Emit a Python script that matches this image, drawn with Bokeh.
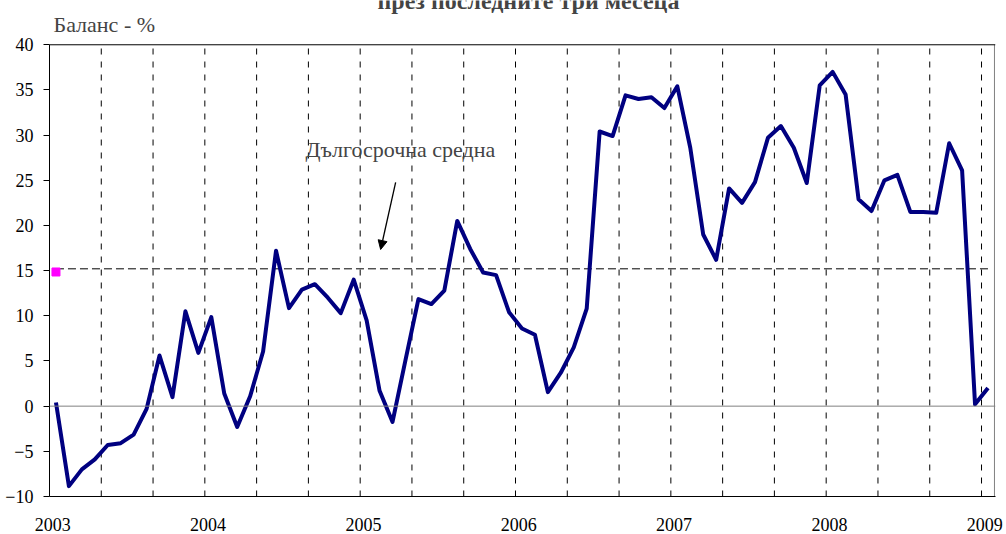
from bokeh.plotting import figure
from bokeh.models import FixedTicker, Span, Label, Arrow, NormalHead, Range1d, ColumnDataSource
from bokeh.embed import file_html
from bokeh.resources import INLINE

# ---- data ----
years = ["2003", "2004", "2005", "2006", "2007", "2008", "2009"]
balance = [0.4, -8.85, -7.0, -5.9, -4.3, -4.1, -3.15, -0.3, 5.6, 1.0, 10.5, 5.9,
           9.85, 1.4, -2.3, 1.1, 6.05, 17.2, 10.85, 12.9, 13.5, 12.0, 10.3, 14.0,
           9.5, 1.7, -1.75, 5.1, 11.85, 11.3, 12.8, 20.5, 17.4, 14.8, 14.5, 10.4,
           8.6, 7.9, 1.55, 3.7, 6.5, 10.8, 30.4, 29.9, 34.4, 34.0, 34.2, 33.0,
           35.4, 28.6, 19.0, 16.2, 24.1, 22.5, 24.8, 29.7, 31.0, 28.6, 24.7, 35.5,
           37.0, 34.5, 22.9, 21.6, 25.0, 25.6, 21.5, 21.5, 21.4, 29.1, 26.1, 0.2,
           2.0]
long_term_avg = 15.2
marker_value = 14.85
y_ticks = [-10, -5, 0, 5, 10, 15, 20, 25, 30, 35, 40]
y_min, y_max = -10, 40

title_text = "през последните три месеца"
y_title_text = "Баланс - %"
note_text = "Дългосрочна средна"

FONT = "Liberation Serif"
n = len(balance)
x = list(range(n))
src = ColumnDataSource(data=dict(x=x, y=balance))

# frame covers the top margin too, so that the texts above the plot area show
p = figure(width=1006, height=534, output_backend="svg", toolbar_location=None,
           x_range=Range1d(-0.5, n - 0.5 + 0.08), y_range=Range1d(y_min, 44.90),
           min_border_left=49, min_border_right=11, min_border_top=0,
           min_border_bottom=38)
p.styles = {"position": "absolute", "top": "0px", "left": "0px"}
p.background_fill_color = "white"
p.border_fill_color = "white"
p.outline_line_color = None
p.xgrid.visible = False
p.ygrid.visible = False

# x axis: year labels
year_pos = [12 * k - 0.25 for k in range(len(years))]
p.xaxis.ticker = FixedTicker(ticks=year_pos)
p.xaxis.major_label_overrides = {pos: lab for pos, lab in zip(year_pos, years)}
p.xaxis.major_tick_out = 0
p.xaxis.major_tick_in = 0
p.xaxis.minor_tick_out = 0
p.xaxis.minor_tick_in = 0
p.xaxis.major_label_standoff = 21
p.xaxis.axis_line_color = "black"

p.yaxis.ticker = FixedTicker(ticks=y_ticks)
p.yaxis.bounds = (y_min, y_max)
p.yaxis.major_tick_out = 6
p.yaxis.major_tick_in = 0
p.yaxis.minor_tick_out = 0
p.yaxis.minor_tick_in = 0
p.yaxis.major_label_standoff = 10
p.yaxis.axis_line_color = "black"

for ax in (p.xaxis[0], p.yaxis[0]):
    ax.major_label_text_font = FONT
    ax.major_label_text_font_size = "18px"
    ax.major_label_text_color = "black"
    ax.major_tick_line_color = "black"

# dashed vertical grid every 4 months (category boundaries)
grid_x = [3.5 + 4 * k for k in range((n - 1) // 4)]
p.segment(x0=grid_x, y0=[y_min] * len(grid_x), x1=grid_x, y1=[y_max] * len(grid_x),
          line_color="black", line_width=1, line_dash="6 7")

# plot-area frame lines
p.add_layout(Span(location=y_max, dimension="width", line_color="black", line_width=1))
p.add_layout(Span(location=0, dimension="width", line_color="#808080", line_width=1))
p.line([n - 0.5, n - 0.5], [y_min, y_max], line_color="#808080", line_width=1)

# long-term average
p.line([x[0], x[-1]], [long_term_avg, long_term_avg], line_color="black",
       line_width=1, line_dash="8 4")
p.scatter([x[0]], [marker_value], marker="square", size=8,
          fill_color="#FF00FF", line_color="#FF00FF")

# main series
p.line("x", "y", source=src, line_color="#000080", line_width=4, line_join="round")

# annotations
p.add_layout(Label(x=36.5, y=44.88, text=title_text, text_font=FONT,
                   text_font_size="24px", text_font_style="bold",
                   text_align="center", text_baseline="alphabetic"))
p.add_layout(Label(x=-0.19, y=42.24, text=y_title_text, text_font=FONT,
                   text_font_size="22px", text_baseline="alphabetic"))
p.add_layout(Label(x=19.28, y=28.41, text=note_text, text_font=FONT,
                   text_font_size="22px", text_baseline="alphabetic"))
p.add_layout(Arrow(end=NormalHead(size=9, fill_color="black", line_color="black"),
                   x_start=26.24, y_start=24.76, x_end=25.08, y_end=17.34,
                   line_color="black", line_width=1.3))

open("out.html", "w").write(file_html(p, INLINE))
